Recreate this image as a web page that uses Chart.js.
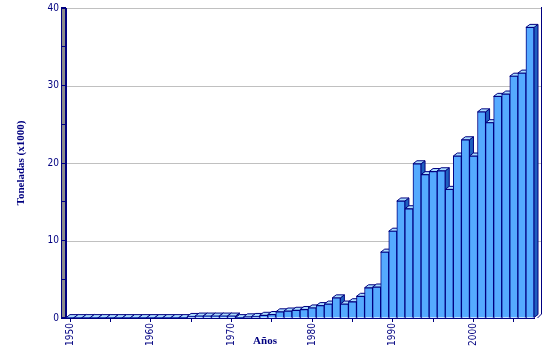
<!DOCTYPE html>
<html>
<head>
<meta charset="utf-8">
<script src="https://cdn.jsdelivr.net/npm/chart.js@4.4.1/dist/chart.umd.min.js"></script>
<style>
  html, body { margin: 0; padding: 0; background: #fff; }
  #wrap { width: 551px; height: 362px; }
</style>
</head>
<body>
<div id="wrap"><canvas id="chart" width="551" height="362"></canvas></div>
<script>
// categories: one bar per year
const years = [
  1950, 1951, 1952, 1953, 1954, 1955, 1956, 1957, 1958, 1959,
  1960, 1961, 1962, 1963, 1964, 1965, 1966, 1967, 1968, 1969,
  1970, 1971, 1972, 1973, 1974, 1975, 1976, 1977, 1978, 1979,
  1980, 1981, 1982, 1983, 1984, 1985, 1986, 1987, 1988, 1989,
  1990, 1991, 1992, 1993, 1994, 1995, 1996, 1997, 1998, 1999,
  2000, 2001, 2002, 2003, 2004, 2005, 2006, 2007
];

// toneladas (x1000)
const tonnes = [
  0.05, 0.05, 0.05, 0.05, 0.05, 0.05, 0.05, 0.05, 0.05, 0.05,
  0.05, 0.05, 0.05, 0.05, 0.05, 0.2, 0.25, 0.25, 0.25, 0.25,
  0.25, 0.05, 0.15, 0.2, 0.35, 0.45, 0.8, 0.9, 1.0, 1.1,
  1.3, 1.6, 1.8, 2.6, 1.8, 2.1, 2.8, 3.9, 4.0, 8.5,
  11.2, 15.1, 14.1, 19.9, 18.5, 18.9, 19.0, 16.6, 20.9, 23.0,
  20.9, 26.6, 25.2, 28.6, 28.9, 31.2, 31.6, 37.5
];

// axis ticks
const yLabelTicks = [0, 10, 20, 30, 40];
const yMinorTicks = [5, 15, 25, 35];
const xLabelYears = [1950, 1960, 1970, 1980, 1990, 2000];
const xTickYears = [1950, 1955, 1960, 1965, 1970, 1975, 1980, 1985, 1990, 1995, 2000, 2005];

const navy = '#000080';
const tickFont = { family: "'Liberation Sans Narrow', 'DejaVu Sans Condensed', 'Liberation Sans', sans-serif", size: 10 };
const depthX = 4, depthY = 3;

function poly(ctx, pts, fill) {
  ctx.beginPath();
  ctx.moveTo(pts[0][0], pts[0][1]);
  for (let i = 1; i < pts.length; i++) ctx.lineTo(pts[i][0], pts[i][1]);
  ctx.closePath();
  ctx.fillStyle = fill;
  ctx.fill();
  ctx.stroke();
}

// walls, grid and the 3d look of the bars
const bars3d = {
  id: 'bars3d',
  beforeDraw(chart) {
    const { ctx, chartArea: a, scales: { y } } = chart;
    ctx.save();
    ctx.lineWidth = 1;
    // back wall grid lines
    ctx.strokeStyle = '#c0c0c0';
    yLabelTicks.forEach(v => {
      if (v === 0) return;
      const py = Math.round(y.getPixelForValue(v)) + 0.5;
      ctx.beginPath();
      ctx.moveTo(a.left, py);
      ctx.lineTo(a.right + 7, py);
      ctx.stroke();
    });
    // left wall
    ctx.fillStyle = '#8c8c8c';
    ctx.fillRect(a.left - 5, a.top - 1, 5, a.bottom - a.top + 1);
    ctx.strokeStyle = navy;
    ctx.strokeRect(a.left - 4.5, a.top - 0.5, 4, a.bottom - a.top);
    // right edge of the back wall
    ctx.beginPath();
    ctx.moveTo(a.right + 7.5, a.top - 1);
    ctx.lineTo(a.right + 7.5, a.bottom - 4);
    ctx.lineTo(a.right + 3.5, a.bottom);
    ctx.stroke();
    ctx.restore();
  },
  beforeDatasetsDraw(chart) {
    const { ctx } = chart;
    const meta = chart.getDatasetMeta(0);
    ctx.save();
    ctx.lineWidth = 1;
    ctx.strokeStyle = navy;
    meta.data.forEach(bar => {
      const { x, y, base, width } = bar.getProps(['x', 'y', 'base', 'width'], true);
      const l = x - width / 2, r = x + width / 2;
      poly(ctx, [[r, y], [r + depthX, y - depthY], [r + depthX, base - depthY], [r, base]], '#1f5fbf');
      poly(ctx, [[l, y], [r, y], [r + depthX, y - depthY], [l + depthX, y - depthY]], '#aaddff');
    });
    ctx.restore();
  },
  afterDraw(chart) {
    const { ctx } = chart;
    ctx.save();
    ctx.fillStyle = navy;
    ctx.font = "bold 11px 'Liberation Serif', serif";
    ctx.textAlign = 'center';
    ctx.textBaseline = 'middle';
    ctx.fillText('Años', 265, 341);
    ctx.restore();
  }
};

new Chart(document.getElementById('chart'), {
  type: 'bar',
  data: {
    labels: years,
    datasets: [{
      data: tonnes,
      backgroundColor: '#55aaff',
      borderColor: navy,
      borderWidth: 1,
      categoryPercentage: 1,
      barPercentage: 1
    }]
  },
  options: {
    responsive: false,
    animation: false,
    layout: { padding: { left: 15, right: 17, top: 8, bottom: 0 } },
    plugins: { legend: { display: false }, tooltip: { enabled: false } },
    scales: {
      x: {
        offset: true,
        grid: {
          offset: false,
          drawOnChartArea: false,
          tickLength: 4,
          tickColor: c => xTickYears.includes(years[c.index]) ? navy : 'rgba(0,0,0,0)'
        },
        border: { color: navy },
        ticks: {
          autoSkip: false,
          minRotation: 90,
          maxRotation: 90,
          padding: 1,
          color: navy,
          font: tickFont,
          callback: (v, i) => xLabelYears.includes(years[i]) ? String(years[i]) : ''
        },
        afterFit: s => { s.height = 44; }
      },
      y: {
        min: 0,
        max: 40,
        afterBuildTicks: s => {
          s.ticks = yLabelTicks.concat(yMinorTicks).sort((a, b) => a - b).map(v => ({ value: v }));
        },
        grid: { drawOnChartArea: false, tickLength: 5, tickColor: navy },
        border: { color: navy },
        ticks: {
          padding: 2,
          color: navy,
          font: tickFont,
          callback: v => yLabelTicks.includes(v) ? String(v) : ''
        },
        title: {
          display: true,
          text: 'Toneladas (x1000)',
          color: navy,
          font: { family: "'Liberation Serif', serif", size: 11, weight: 'bold' },
          padding: 0
        },
        afterFit: s => { s.width = 51; }
      }
    }
  },
  plugins: [bars3d]
});
</script>
</body>
</html>
